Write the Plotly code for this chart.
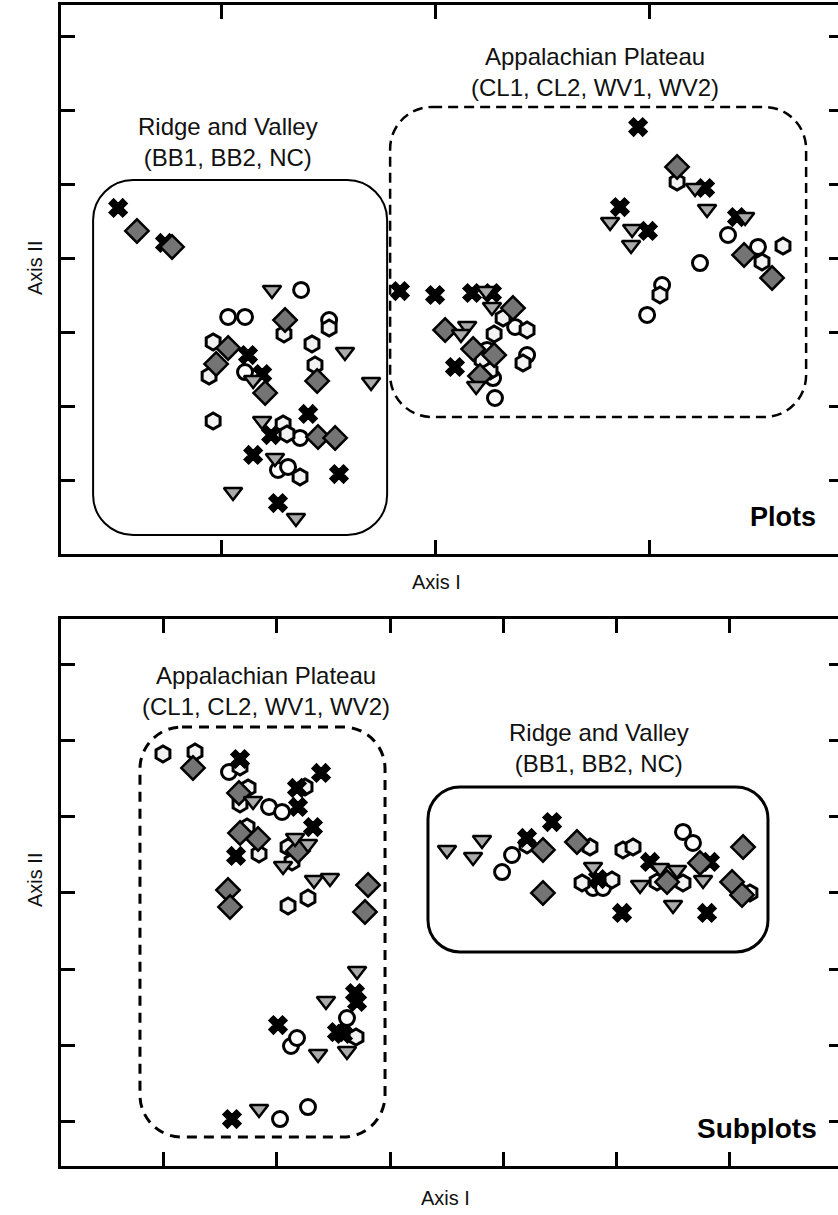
import plotly.graph_objects as go

# ---------------- Ordination scores: "Plots" panel ----------------
plots_x_mark_x = [-1.481, -1.262, -0.874, -0.808, -0.593, -0.766, -0.850, -0.449, -0.734,
                  -0.164, 0.000, 0.173, 0.266, 0.093, 0.949, 0.864, 0.995, 1.262, 1.411]
plots_x_mark_y = [0.676, 0.203, -1.311, -1.568, -2.108, -2.392, -2.662, -2.919, -3.311,
                  -0.446, -0.500, -0.473, -0.473, -1.473, 1.770, 0.689, 0.365, 0.946, 0.554]

plots_diamond_x = [-1.393, -1.229, -0.701, -0.967, -1.023, -0.794, -0.551, -0.547, -0.467,
                   0.047, 0.364, 0.178, 0.276, 0.210, 1.131, 1.444, 1.575]
plots_diamond_y = [0.365, 0.149, -0.838, -1.216, -1.432, -1.824, -1.662, -2.419, -2.432,
                   -0.973, -0.676, -1.230, -1.311, -1.595, 1.230, 0.041, -0.270]

plots_triangle_x = [-0.762, -0.421, -0.850, -0.299, -0.808, -0.748, -0.944, -0.650,
                    0.238, 0.266, 0.150, 0.121, 0.192, 1.215, 1.271, 0.818, 0.921, 0.916, 1.449]
plots_triangle_y = [-0.432, -1.270, -1.649, -1.676, -2.203, -2.703, -3.162, -3.514,
                    -0.446, -0.662, -0.919, -1.027, -1.730, 0.946, 0.662, 0.486, 0.392, 0.176, 0.554]

plots_circle_x = [-0.626, -0.967, -0.888, -0.495, -0.888, -0.631, -0.734, -0.687,
                  0.374, 0.430, 0.271, 0.280, 1.369, 1.509, 1.238, 1.061, 0.991, 0.243]
plots_circle_y = [-0.432, -0.797, -0.797, -0.838, -1.541, -2.432, -2.865, -2.824,
                  -0.932, -1.311, -1.622, -1.892, 0.311, 0.149, -0.068, -0.365, -0.770, -1.243]

plots_hexagon_x = [-0.706, -0.495, -1.037, -0.575, -1.056, -0.561, -1.037, -0.710, -0.692, -0.631,
                   0.318, 0.430, 0.276, 0.220, 0.411, 0.257, 1.131, 1.626, 1.528, 1.051]
plots_hexagon_y = [-1.027, -0.946, -1.135, -1.162, -1.595, -1.446, -2.203, -2.243, -2.378, -2.959,
                   -0.811, -0.973, -1.027, -1.378, -1.419, -1.527, 1.027, 0.162, -0.054, -0.500]

# ---------------- Ordination scores: "Subplots" panel ----------------
sub_x_mark_x = [-1.324, -0.821, -0.609, -0.812, -0.680, -1.359, -0.989, -0.468, -0.415, -0.309,
                -0.291, -1.395, 1.430, 1.209, 2.295, 1.836, 2.824, 2.048, 2.798]
sub_x_mark_y = [1.763, 1.382, 1.579, 1.132, 0.868, 0.487, -1.737, -1.829, -1.855, -1.316,
                -1.434, -2.974, 0.934, 0.724, 0.408, 0.184, 0.408, -0.263, -0.263]

sub_diamond_x = [-1.739, -1.333, -1.324, -1.165, -0.812, -1.430, -1.412, -0.194, -0.221,
                 1.350, 1.650, 1.350, 2.445, 2.736, 3.019, 3.107, 3.116]
sub_diamond_y = [1.645, 1.316, 0.789, 0.711, 0.553, 0.039, -0.184, 0.105, -0.250,
                 0.566, 0.671, 0.000, 0.145, 0.395, 0.145, -0.026, 0.605]

sub_triangle_x = [-1.209, -0.838, -0.724, -0.944, -0.671, -0.530, -0.291, -0.565, -0.635, -0.380,
                  -1.156, 0.503, 0.812, 0.733, 1.792, 2.207, 2.383, 2.533, 2.498, 2.763]
sub_triangle_y = [1.211, 0.724, 0.645, 0.355, 0.171, 0.197, -1.026, -1.421, -2.118, -2.079,
                  -2.842, 0.566, 0.697, 0.474, 0.342, 0.105, 0.329, 0.303, -0.158, 0.171]

sub_circle_x = [-1.421, -1.068, -0.953, -0.874, -0.821, -0.380, -0.971, -0.724,
                1.077, 0.989, 2.586, 2.674, 1.792, 1.880]
sub_circle_y = [1.592, 1.132, 1.066, -2.013, -1.908, -1.645, -2.974, -2.816,
                0.500, 0.276, 0.803, 0.658, 0.066, 0.066]

sub_hexagon_x = [-2.004, -1.721, -1.324, -1.253, -1.324, -0.750, -1.262, -1.156, -0.900, -0.865,
                 -0.724, -0.900, -0.300, 1.209, 1.765, 2.056, 2.145, 1.695, 1.959, 2.357, 2.586, 3.177]
sub_hexagon_y = [1.829, 1.855, 1.658, 1.382, 1.171, 1.395, 0.868, 0.513, 0.605, 0.408,
                 -0.066, -0.171, -1.895, 0.632, 0.605, 0.566, 0.605, 0.132, 0.171, 0.145, 0.132, 0.000]

# ---------------- Tick positions ----------------
plots_xticks = [-1, 0, 1]
plots_yticks = [-3, -2, -1, 0, 1, 2, 3]
sub_xticks = [-2, -1, 0, 1, 2, 3]
sub_yticks = [-3, -2, -1, 0, 1, 2, 3]

# ---------------- Figure geometry ----------------
W, H = 838, 1215
PLOTS_XRANGE = [-1.748, 1.883]
PLOTS_YRANGE = [-4.0, 3.419]
SUB_XRANGE = [-2.904, 3.954]
SUB_YRANGE = [-3.592, 3.605]
X_DOMAIN = [61 / W, 1.0]
PLOTS_YDOMAIN = [1 - 554 / H, 1 - 5 / H]
SUB_YDOMAIN = [1 - 1166 / H, 1 - 619 / H]

FONT = "Liberation Sans, Arial, sans-serif"

marker_styles = {
    "hexagon": dict(symbol="hexagon", size=16, color="#f2f2f2", line=dict(color="black", width=3)),
    "circle": dict(symbol="circle", size=15, color="white", line=dict(color="black", width=3)),
    "x": dict(symbol="x", size=16, color="black", line=dict(color="black", width=1.5)),
    "diamond": dict(symbol="diamond", size=18, color="#747474", line=dict(color="black", width=2.5)),
    "triangle": dict(symbol="triangle-down", size=16, color="#aaaaaa", line=dict(color="black", width=2.5)),
}

fig = go.Figure()


def add_series(xs, ys, kind, xa, ya):
    fig.add_trace(go.Scatter(x=xs, y=ys, mode="markers", marker=marker_styles[kind],
                             xaxis=xa, yaxis=ya, showlegend=False, hoverinfo="skip"))


panel_series = [
    ("x", "y", [
        (plots_circle_x, plots_circle_y, "circle"),
        (plots_hexagon_x, plots_hexagon_y, "hexagon"),
        (plots_x_mark_x, plots_x_mark_y, "x"),
        (plots_diamond_x, plots_diamond_y, "diamond"),
        (plots_triangle_x, plots_triangle_y, "triangle"),
    ]),
    ("x2", "y2", [
        (sub_circle_x, sub_circle_y, "circle"),
        (sub_hexagon_x, sub_hexagon_y, "hexagon"),
        (sub_x_mark_x, sub_x_mark_y, "x"),
        (sub_diamond_x, sub_diamond_y, "diamond"),
        (sub_triangle_x, sub_triangle_y, "triangle"),
    ]),
]
for xa, ya, series in panel_series:
    for xs, ys, kind in series:
        add_series(xs, ys, kind, xa, ya)

# empty traces so the right-hand tick axes get drawn
fig.add_trace(go.Scatter(x=[], y=[], xaxis="x", yaxis="y3", showlegend=False))
fig.add_trace(go.Scatter(x=[], y=[], xaxis="x2", yaxis="y4", showlegend=False))


def px_per_unit(rng, dom, total):
    return (dom[1] - dom[0]) * total / (rng[1] - rng[0])


def rounded_box(x0, x1, y0, y1, r_px, ux, uy):
    rx, ry, k = r_px / ux, r_px / uy, 0.5523
    p = [
        f"M {x0 + rx},{y1}", f"L {x1 - rx},{y1}",
        f"C {x1 - rx + k * rx},{y1} {x1},{y1 - ry + k * ry} {x1},{y1 - ry}",
        f"L {x1},{y0 + ry}",
        f"C {x1},{y0 + ry - k * ry} {x1 - rx + k * rx},{y0} {x1 - rx},{y0}",
        f"L {x0 + rx},{y0}",
        f"C {x0 + rx - k * rx},{y0} {x0},{y0 + ry - k * ry} {x0},{y0 + ry}",
        f"L {x0},{y1 - ry}",
        f"C {x0},{y1 - ry + k * ry} {x0 + rx - k * rx},{y1} {x0 + rx},{y1}",
        "Z",
    ]
    return " ".join(p)


ux1 = px_per_unit(PLOTS_XRANGE, X_DOMAIN, W)
uy1 = px_per_unit(PLOTS_YRANGE, PLOTS_YDOMAIN, H)
ux2 = px_per_unit(SUB_XRANGE, X_DOMAIN, W)
uy2 = px_per_unit(SUB_YRANGE, SUB_YDOMAIN, H)

shapes = [
    # Ridge and Valley (Plots)
    dict(type="path", xref="x", yref="y", layer="below",
         path=rounded_box(-1.598, -0.224, -3.743, 1.054, 40, ux1, uy1),
         line=dict(color="black", width=2)),
    # Appalachian Plateau (Plots)
    dict(type="path", xref="x", yref="y", layer="below",
         path=rounded_box(-0.210, 1.734, -2.149, 2.041, 42, ux1, uy1),
         line=dict(color="black", width=2.5, dash="10px,6px")),
    # Appalachian Plateau (Subplots)
    dict(type="path", xref="x2", yref="y2", layer="below",
         path=rounded_box(-2.207, -0.044, -3.211, 2.184, 42, ux2, uy2),
         line=dict(color="black", width=3, dash="10px,7px")),
    # Ridge and Valley (Subplots)
    dict(type="path", xref="x2", yref="y2", layer="below",
         path=rounded_box(0.335, 3.336, -0.776, 1.395, 32, ux2, uy2),
         line=dict(color="black", width=3)),
]

txt = dict(family=FONT, size=24, color="#111111")
axis_txt = dict(family=FONT, size=20, color="#111111")
annotations = [
    dict(x=-0.967, y=1.574, xref="x", yref="y", text="Ridge and Valley<br>(BB1, BB2, NC)",
         showarrow=False, font=txt, xanchor="center", yanchor="middle"),
    dict(x=0.748, y=2.507, xref="x", yref="y", text="Appalachian Plateau<br>(CL1, CL2, WV1, WV2)",
         showarrow=False, font=txt, xanchor="center", yanchor="middle"),
    dict(x=-1.094, y=2.664, xref="x2", yref="y2", text="Appalachian Plateau<br>(CL1, CL2, WV1, WV2)",
         showarrow=False, font=txt, xanchor="center", yanchor="middle"),
    dict(x=1.845, y=1.908, xref="x2", yref="y2", text="Ridge and Valley<br>(BB1, BB2, NC)",
         showarrow=False, font=txt, xanchor="center", yanchor="middle"),
    dict(x=1.79, y=-3.5, xref="x", yref="y", text="<b>Plots</b>",
         showarrow=False, font=dict(family=FONT, size=27, color="black"),
         xanchor="right", yanchor="middle"),
    dict(x=3.786, y=-3.092, xref="x2", yref="y2", text="<b>Subplots</b>",
         showarrow=False, font=dict(family=FONT, size=28, color="black"),
         xanchor="right", yanchor="middle"),
    # axis titles
    dict(x=436 / W, y=1 - 582 / H, xref="paper", yref="paper", text="Axis I", showarrow=False,
         font=axis_txt, xanchor="center", yanchor="middle"),
    dict(x=446 / W, y=1 - 1198 / H, xref="paper", yref="paper", text="Axis I", showarrow=False,
         font=axis_txt, xanchor="center", yanchor="middle"),
    dict(x=35 / W, y=1 - 268 / H, xref="paper", yref="paper", text="Axis II", showarrow=False,
         textangle=-90, font=axis_txt, xanchor="center", yanchor="middle"),
    dict(x=35 / W, y=1 - 880 / H, xref="paper", yref="paper", text="Axis II", showarrow=False,
         textangle=-90, font=axis_txt, xanchor="center", yanchor="middle"),
]

common_x = dict(showline=True, linewidth=3, linecolor="black", mirror="ticks", ticks="inside",
                ticklen=14, tickwidth=3, tickcolor="black", showticklabels=False,
                showgrid=False, zeroline=False, domain=X_DOMAIN, fixedrange=True)
common_y = dict(showline=True, linewidth=3, linecolor="black", mirror=False, ticks="inside",
                ticklen=14, tickwidth=3, tickcolor="black", showticklabels=False,
                showgrid=False, zeroline=False, fixedrange=True)
right_y = dict(showline=False, ticks="inside", ticklen=9, tickwidth=3, tickcolor="black",
               showticklabels=False, showgrid=False, zeroline=False, side="right", fixedrange=True)

fig.update_layout(
    width=W, height=H,
    margin=dict(l=0, r=0, t=0, b=0),
    paper_bgcolor="white", plot_bgcolor="white",
    xaxis=dict(common_x, range=PLOTS_XRANGE, tickvals=plots_xticks, anchor="y"),
    yaxis=dict(common_y, range=PLOTS_YRANGE, tickvals=plots_yticks, domain=PLOTS_YDOMAIN, anchor="x"),
    xaxis2=dict(common_x, range=SUB_XRANGE, tickvals=sub_xticks, anchor="y2"),
    yaxis2=dict(common_y, range=SUB_YRANGE, tickvals=sub_yticks, domain=SUB_YDOMAIN, anchor="x2"),
    yaxis3=dict(right_y, range=PLOTS_YRANGE, tickvals=plots_yticks, overlaying="y", anchor="x"),
    yaxis4=dict(right_y, range=SUB_YRANGE, tickvals=sub_yticks, overlaying="y2", anchor="x2"),
    shapes=shapes,
    annotations=annotations,
    showlegend=False,
)

fig.write_html("out.html")
